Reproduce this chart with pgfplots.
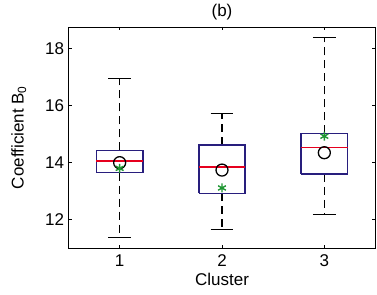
\documentclass[border=0pt]{standalone}
\usepackage{fontspec}
\setmainfont{Liberation Sans}
\usepackage{pgfplots}
\usepackage{pgfplotstable}
\pgfplotsset{compat=1.18}
\definecolor{boxblue}{RGB}{40,30,125}
\definecolor{medred}{RGB}{230,0,30}
\definecolor{stargreen}{RGB}{30,150,50}
\pgfplotstableread{
x lw q1 med q3 uw mean star
1 11.37 13.65 14.06 14.43 16.95 14.00 13.80
2 11.66 12.92 13.85 14.62 15.74 13.74 13.11
3 12.18 13.61 14.53 15.03 18.40 14.35 14.93
}\data
\begin{document}
\begin{tikzpicture}
\begin{axis}[name=ax, scale only axis, width=307bp, height=221bp,
  xmin=0.5, xmax=3.5, ymin=11, ymax=18.77,
  xtick={1,2,3}, ytick={12,14,16,18},
  tick pos=both, tick align=inside, major tick length=3.5bp,
  axis line style={line width=0.9bp},
  every tick/.style={black, line width=0.9bp},
  /pgf/number format/assume math mode=true,
  ticklabel style={font=\fontsize{17bp}{20bp}\selectfont},
  xticklabel style={yshift=-3bp},
  yticklabel style={xshift=-1bp},
  label style={font=\fontsize{17bp}{20bp}\selectfont},
  xlabel={Cluster}, ylabel={Coefficient B\textsubscript{0}},
  xlabel style={yshift=0bp},
  ylabel style={yshift=12bp},
  title={(b)}, title style={font=\fontsize{17bp}{20bp}\selectfont, yshift=-3bp},
  clip=false,
]
% whiskers
\addplot[black, line width=1.3bp, dash pattern=on 8bp off 5bp] coordinates {(1,14.43) (1,16.95)};
\addplot[black, line width=1.3bp, dash pattern=on 8bp off 5bp] coordinates {(1,13.65) (1,11.37)};
\addplot[black, line width=1.3bp, dash pattern=on 8bp off 5bp] coordinates {(2,14.62) (2,15.74)};
\addplot[black, line width=1.3bp, dash pattern=on 8bp off 5bp] coordinates {(2,12.92) (2,11.66)};
\addplot[black, line width=1.3bp, dash pattern=on 8bp off 5bp] coordinates {(3,15.03) (3,18.40)};
\addplot[black, line width=1.3bp, dash pattern=on 8bp off 5bp] coordinates {(3,13.61) (3,12.18)};
% caps
\addplot[black, line width=1.3bp] coordinates {(0.888,16.95) (1.112,16.95)};
\addplot[black, line width=1.3bp] coordinates {(0.888,11.37) (1.112,11.37)};
\addplot[black, line width=1.3bp] coordinates {(1.888,15.74) (2.112,15.74)};
\addplot[black, line width=1.3bp] coordinates {(1.888,11.66) (2.112,11.66)};
\addplot[black, line width=1.3bp] coordinates {(2.888,18.40) (3.112,18.40)};
\addplot[black, line width=1.3bp] coordinates {(2.888,12.18) (3.112,12.18)};
% boxes
\addplot[draw=boxblue, line width=1.7bp] coordinates {(0.773,13.65) (1.227,13.65) (1.227,14.43) (0.773,14.43) (0.773,13.65)};
\addplot[draw=boxblue, line width=1.7bp] coordinates {(1.773,12.92) (2.227,12.92) (2.227,14.62) (1.773,14.62) (1.773,12.92)};
\addplot[draw=boxblue, line width=1.7bp] coordinates {(2.773,13.61) (3.227,13.61) (3.227,15.03) (2.773,15.03) (2.773,13.61)};
% medians
\addplot[draw=medred, line width=1.5bp] coordinates {(0.773,14.06) (1.227,14.06)};
\addplot[draw=medred, line width=1.5bp] coordinates {(1.773,13.85) (2.227,13.85)};
\addplot[draw=medred, line width=1.5bp] coordinates {(2.773,14.53) (3.227,14.53)};
% means and stars
\addplot[only marks, mark=o, mark size=6bp, black, line width=1.3bp] table[x=x, y=mean] {\data};
\addplot[only marks, mark=asterisk, mark size=4.5bp, stargreen, line width=1.4bp] table[x=x, y=star] {\data};
\end{axis}
\pgfresetboundingbox
\path ([shift={(-68.5bp,-47bp)}]ax.south west) rectangle ([shift={(1.5bp,27bp)}]ax.north east);
\end{tikzpicture}
\end{document}
